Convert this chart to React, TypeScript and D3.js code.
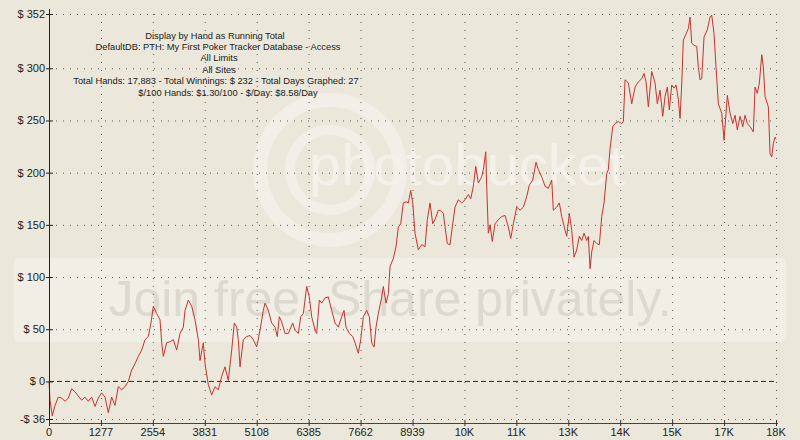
import React from "react";
import * as d3 from "d3";

const TOTAL_HANDS = 17883;

const hands = [
  0, 25, 81, 148, 229, 312, 394, 475, 558, 640, 721, 804, 886, 967, 1050, 1132, 1213, 1296, 1378, 1459,
  1542, 1624, 1705, 1788, 1870, 1951, 2034, 2116, 2197, 2280, 2362, 2443, 2509, 2566, 2649, 2731, 2772, 2812, 2895, 2977,
  3058, 3141, 3223, 3304, 3346, 3427, 3510, 3592, 3673, 3715, 3796, 3838, 3919, 4002, 4084, 4165, 4248, 4330, 4411, 4494,
  4558, 4617, 4657, 4699, 4780, 4863, 4945, 5026, 5109, 5191, 5272, 5314, 5395, 5478, 5560, 5616, 5665, 5724, 5806, 5887,
  5995, 6052, 6133, 6192, 6256, 6339, 6403, 6462, 6544, 6585, 6650, 6708, 6790, 6871, 6954, 7036, 7117, 7200, 7257, 7306,
  7387, 7471, 7528, 7609, 7668, 7732, 7815, 7879, 7938, 7995, 8044, 8101, 8184, 8224, 8290, 8347, 8389, 8470, 8536, 8593,
  8652, 8716, 8782, 8839, 8898, 8947, 9004, 9085, 9168, 9250, 9306, 9373, 9439, 9496, 9577, 9619, 9700, 9742, 9798, 9865,
  9931, 9988, 10069, 10152, 10234, 10315, 10374, 10438, 10497, 10561, 10644, 10684, 10743, 10767, 10807, 10849, 10905, 10972, 11053, 11136,
  11218, 11299, 11358, 11422, 11505, 11587, 11668, 11751, 11815, 11899, 11980, 12037, 12120, 12202, 12283, 12366, 12406, 12489, 12553, 12612,
  12694, 12735, 12799, 12858, 12915, 12981, 13045, 13104, 13161, 13227, 13267, 13309, 13350, 13407, 13473, 13537, 13596, 13653, 13719, 13759,
  13801, 13867, 13924, 14005, 14088, 14128, 14170, 14251, 14334, 14416, 14497, 14580, 14637, 14686, 14743, 14826, 14908, 14964, 15031, 15097,
  15154, 15210, 15259, 15318, 15375, 15424, 15481, 15523, 15565, 15604, 15670, 15727, 15769, 15810, 15867, 15933, 15973, 16015, 16056, 16113,
  16194, 16261, 16302, 16359, 16408, 16465, 16548, 16605, 16654, 16686, 16753, 16819, 16876, 16932, 16999, 17065, 17122, 17178, 17245, 17326,
  17368, 17424, 17474, 17533, 17572, 17614, 17695, 17737, 17778, 17818, 17860, 17883,
];

const winnings = [
  0, -18, -33, -23, -15, -16, -19, -16, -7, -10, -14, -18, -15, -19, -15, -24, -16, -11, -15, -30,
  -15, -23, -5, -8, -5, 0, 11, 17, 24, 30, 40, 43, 56, 72, 65, 59, 37, 24, 37, 38,
  40, 30, 46, 52, 68, 78, 72, 59, 40, 20, 37, 17, -3, -13, -5, -8, 5, 14, 1, 30,
  56, 52, 40, 14, 40, 43, 44, 40, 33, 49, 68, 75, 68, 56, 52, 43, 62, 57, 46, 46,
  56, 49, 46, 62, 65, 91, 81, 62, 49, 46, 78, 75, 80, 81, 68, 56, 52, 62, 68, 52,
  46, 43, 37, 27, 40, 62, 68, 62, 37, 33, 52, 65, 81, 91, 75, 84, 110, 118, 129, 148,
  151, 171, 172, 171, 183, 171, 142, 126, 131, 129, 155, 171, 151, 155, 164, 164, 161, 148, 132, 131,
  151, 167, 174, 171, 174, 179, 175, 187, 206, 190, 196, 203, 220, 187, 142, 150, 134, 151, 155, 158,
  159, 148, 137, 151, 167, 164, 167, 177, 188, 193, 210, 203, 196, 187, 185, 193, 164, 167, 171, 158,
  145, 139, 161, 145, 119, 126, 139, 135, 142, 135, 139, 108, 124, 135, 132, 131, 158, 171, 199, 203,
  223, 244, 247, 249, 247, 249, 289, 286, 266, 282, 287, 290, 295, 287, 263, 297, 286, 266, 279, 254,
  273, 282, 260, 284, 281, 284, 270, 252, 286, 327, 333, 338, 349, 324, 322, 321, 301, 289, 290, 330,
  337, 349, 351, 333, 301, 266, 257, 231, 257, 274, 257, 247, 255, 241, 254, 244, 255, 247, 244, 239,
  282, 276, 286, 313, 301, 273, 263, 218, 215, 228, 234, 232,
];

const yTicks = [-36, 0, 50, 100, 150, 200, 250, 300, 352];
const yTickLabels = ["-$ 36", "$ 0", "$ 50", "$ 100", "$ 150", "$ 200", "$ 250", "$ 300", "$ 352"];
const xTickLabels = ["0", "1277", "2554", "3831", "5108", "6385", "7662", "8939", "10K", "11K", "13K", "14K", "15K", "17K", "18K"];

const infoLines = [
  "Display by Hand as Running Total",
  "DefaultDB: PTH: My First Poker Tracker Database - Access",
  "All Limits",
  "All Sites",
  "Total Hands: 17,883 - Total Winnings: $ 232 - Total Days Graphed: 27",
  "$/100 Hands: $1.30/100 - $/Day: $8.58/Day",
];
const infoCenters = [215, 218, 219, 219, 216, 228];

export default function App() {
  const W = 800;
  const H = 440;
  const x = d3.scaleLinear().domain([0, TOTAL_HANDS]).range([49, 776]);
  const y = d3.scaleLinear().domain([-36, 352]).range([419, 14]);
  const xTicks = xTickLabels.map((_, i) => (i * TOTAL_HANDS) / 14);
  const data = hands.map((h, i) => ({ h, v: winnings[i] }));
  const line = d3
    .line<{ h: number; v: number }>()
    .x((d) => x(d.h))
    .y((d) => y(d.v));
  const font = "'Liberation Sans', Arial, sans-serif";
  const x0 = x(0);
  const x1 = x(TOTAL_HANDS);
  const yTop = y(352);
  const yBot = y(-36);
  const axisY = yBot + 4;

  return (
    <svg
      width={W}
      height={H}
      style={{ position: "absolute", left: 0, top: 0, display: "block" }}
      fontFamily={font}
    >
      <rect x={0} y={0} width={W} height={H} fill="#ebe8db" />
      {/* watermark */}
      <circle cx={330} cy={170} r={70} fill="none" stroke="#f1efe7" strokeWidth={14} />
      <circle cx={330} cy={170} r={40} fill="none" stroke="#f1efe7" strokeWidth={10} />
      <text x={467} y={185} textAnchor="middle" fontSize={58} fill="#f3f1ea">
        photobucket
      </text>
      <rect x={14} y={258} width={772} height={84} rx={6} fill="#f0eee5" />
      <text x={390} y={316} textAnchor="middle" fontSize={50} fill="#dcd9ce">
        Join free. Share privately.
      </text>

      {/* horizontal grid */}
      {yTicks.map((t) =>
        t === 0 ? (
          <line key={t} x1={x0} x2={x1} y1={y(t)} y2={y(t)} stroke="#2a2a2a" strokeDasharray="5,3" />
        ) : (
          <line key={t} x1={x0} x2={x1} y1={y(t) + 0.5} y2={y(t) + 0.5} stroke="#555" strokeDasharray="1,6" />
        )
      )}
      {/* vertical grid */}
      {xTicks.slice(1).map((t, i) => (
        <line key={i} x1={x(t) + 0.5} x2={x(t) + 0.5} y1={yTop} y2={yBot} stroke="#555" strokeDasharray="1,7" />
      ))}

      {/* info text */}
      {infoLines.map((s, i) => (
        <text key={i} x={infoCenters[i]} y={38.5 + i * 11.4} fontSize={9.3} fill="#1a1a1a" textAnchor="middle">
          {s}
        </text>
      ))}

      {/* line */}
      <path d={line(data) || ""} fill="none" stroke="#c8322c" strokeWidth={1} strokeLinejoin="round" />

      {/* axes */}
      <line x1={x0 + 0.5} x2={x0 + 0.5} y1={9} y2={axisY} stroke="#222" strokeWidth={1} />
      <line x1={x0} x2={x1 + 2} y1={axisY + 0.5} y2={axisY + 0.5} stroke="#444" strokeWidth={1.2} />
      {yTicks.map((t, i) => (
        <g key={t}>
          <line x1={46} x2={53} y1={y(t) + 0.5} y2={y(t) + 0.5} stroke="#222" />
          <text x={45} y={y(t) + 4} textAnchor="end" fontSize={11} fill="#222">
            {yTickLabels[i]}
          </text>
        </g>
      ))}
      {xTicks.map((t, i) => (
        <g key={i}>
          <line x1={x(t) + 0.5} x2={x(t) + 0.5} y1={axisY - 3} y2={axisY + 3} stroke="#333" />
          <text x={x(t)} y={axisY + 13} textAnchor="middle" fontSize={11} fill="#222">
            {xTickLabels[i]}
          </text>
        </g>
      ))}
    </svg>
  );
}
